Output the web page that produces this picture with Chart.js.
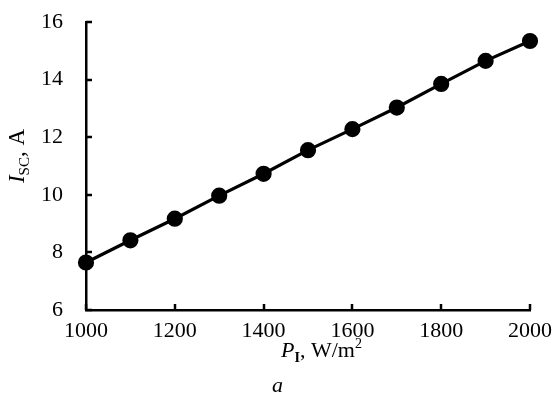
<!DOCTYPE html>
<html>
<head>
<meta charset="utf-8">
<script src="https://cdn.jsdelivr.net/npm/chart.js@4/dist/chart.umd.min.js"></script>
<style>
  html, body { margin: 0; padding: 0; background: #fff; }
  #wrap { width: 557px; height: 401px; }
</style>
</head>
<body>
<div id="wrap"><canvas id="c" width="557" height="401"></canvas></div>
<script>
const irradiance = [1000, 1100, 1200, 1300, 1400, 1500, 1600, 1700, 1800, 1900, 2000];
const shortCircuitCurrent = [7.65, 8.42, 9.17, 9.97, 10.73, 11.55, 12.28, 13.03, 13.85, 14.65, 15.34];
const xTicks = [1000, 1200, 1400, 1600, 1800, 2000];
const yTicks = [6, 8, 10, 12, 14, 16];

const serif = '"Liberation Serif", "Times New Roman", serif';

// draws inward tick marks and the rich-text axis titles
const decorations = {
  id: 'decorations',
  afterDraw(chart) {
    const ctx = chart.ctx;
    const { x, y } = chart.scales;
    const area = chart.chartArea;
    ctx.save();
    ctx.strokeStyle = '#000';
    ctx.lineWidth = 2.5;
    yTicks.forEach(v => {
      const py = Math.round(y.getPixelForValue(v));
      ctx.beginPath(); ctx.moveTo(area.left, py); ctx.lineTo(area.left + 6, py); ctx.stroke();
    });
    xTicks.forEach(v => {
      const px = Math.round(x.getPixelForValue(v));
      ctx.beginPath(); ctx.moveTo(px, area.bottom); ctx.lineTo(px, area.bottom - 6); ctx.stroke();
    });

    ctx.fillStyle = '#000';
    ctx.textBaseline = 'alphabetic';
    ctx.textAlign = 'left';

    // x title: P_I, W/m^2
    const parts = [
      { t: 'P', f: 'italic 22px ' + serif, dy: 0 },
      { t: 'I', f: 'bold 14px ' + serif, dy: 5 },
      { t: ', W/m', f: '22px ' + serif, dy: 0 },
      { t: '2', f: '14px ' + serif, dy: -9 }
    ];
    let cx = 281;
    const by = 357;
    parts.forEach(p => { ctx.font = p.f; ctx.fillText(p.t, cx, by + p.dy); cx += ctx.measureText(p.t).width; });

    // panel letter
    ctx.font = 'italic 22px ' + serif;
    ctx.fillText('a', 272, 392);

    // y title: I_SC, A (rotated)
    ctx.translate(24, 156);
    ctx.rotate(-Math.PI / 2);
    const yParts = [
      { t: 'I', f: 'italic 23px ' + serif, dy: 0 },
      { t: 'SC', f: '15px ' + serif, dy: 5 },
      { t: ', A', f: '23px ' + serif, dy: 0 }
    ];
    let total = 0;
    yParts.forEach(p => { ctx.font = p.f; total += ctx.measureText(p.t).width; });
    let tx = -total / 2;
    yParts.forEach(p => { ctx.font = p.f; ctx.fillText(p.t, tx, p.dy); tx += ctx.measureText(p.t).width; });
    ctx.restore();
  }
};

new Chart(document.getElementById('c'), {
  type: 'scatter',
  data: {
    datasets: [{
      data: irradiance.map((p, i) => ({ x: p, y: shortCircuitCurrent[i] })),
      showLine: true,
      borderColor: '#000',
      backgroundColor: '#000',
      borderWidth: 3.2,
      pointRadius: 6.5,
      pointHoverRadius: 6.5,
      clip: false
    }]
  },
  options: {
    responsive: false,
    animation: false,
    events: [],
    layout: { padding: { left: 0, right: 27, top: 22, bottom: 0 } },
    plugins: { legend: { display: false }, tooltip: { enabled: false } },
    scales: {
      x: {
        type: 'linear', min: 1000, max: 2000,
        afterBuildTicks: s => { s.ticks = xTicks.map(v => ({ value: v })); },
        afterFit: s => { s.height = 91; s.paddingLeft = 0; s.paddingRight = 0; },
        grid: { display: true, drawOnChartArea: false, drawTicks: false },
        border: { color: '#000', width: 2.5 },
        ticks: { padding: 8, color: '#000', font: { family: serif, size: 22 }, maxRotation: 0, callback: v => String(v) }
      },
      y: {
        type: 'linear', min: 6, max: 16,
        afterBuildTicks: s => { s.ticks = yTicks.map(v => ({ value: v })); },
        afterFit: s => { s.width = 86; s.paddingTop = 0; s.paddingBottom = 0; },
        grid: { display: true, drawOnChartArea: false, drawTicks: false, color: 'rgba(0,0,0,0)' },
        border: { color: '#000', width: 2.5 },
        ticks: { padding: 23, color: '#000', font: { family: serif, size: 22 }, callback: v => String(v) }
      }
    }
  },
  plugins: [decorations]
});
</script>
</body>
</html>
